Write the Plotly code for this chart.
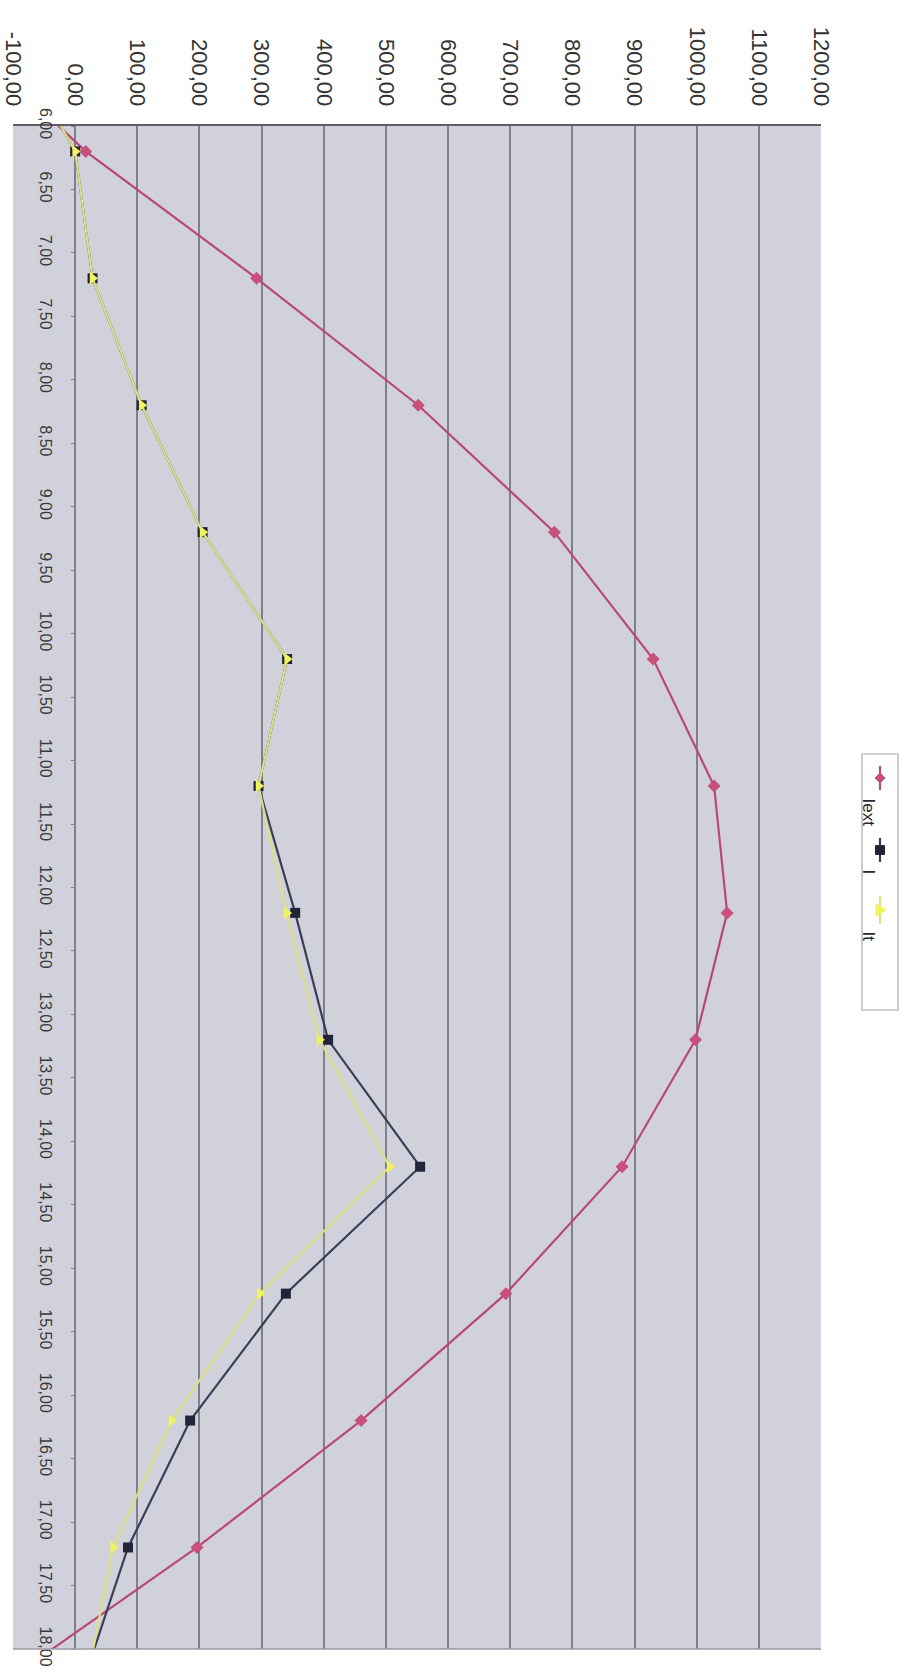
import plotly.graph_objects as go

# Hourly readings (decimal hours); the first and last rows lie just outside the 6–18 window
hours = [5.2, 6.2, 7.2, 8.2, 9.2, 10.2, 11.2, 12.2, 13.2, 14.2, 15.2, 16.2, 17.2, 18.2]
iext = [-200, 17, 292, 552, 771, 930, 1028, 1049, 998, 880, 693, 460, 196, -95]
i_vals = [-115, 0, 28, 107, 205, 341, 295, 354, 407, 555, 339, 185, 85, 17]
it_vals = [-115, 0, 28, 107, 205, 341, 295, 340, 393, 506, 297, 155, 61, 21]

value_ticks = [-100, 0, 100, 200, 300, 400, 500, 600, 700, 800, 900, 1000, 1100, 1200]
value_labels = ["-100,00", "0,00", "100,00", "200,00", "300,00", "400,00", "500,00",
                "600,00", "700,00", "800,00", "900,00", "1000,00", "1100,00", "1200,00"]
time_ticks = [6.0, 6.5, 7.0, 7.5, 8.0, 8.5, 9.0, 9.5, 10.0, 10.5, 11.0, 11.5, 12.0,
              12.5, 13.0, 13.5, 14.0, 14.5, 15.0, 15.5, 16.0, 16.5, 17.0, 17.5, 18.0]
time_labels = ["6,00", "6,50", "7,00", "7,50", "8,00", "8,50", "9,00", "9,50", "10,00",
               "10,50", "11,00", "11,50", "12,00", "12,50", "13,00", "13,50", "14,00",
               "14,50", "15,00", "15,50", "16,00", "16,50", "17,00", "17,50", "18,00"]
series_names = ["Iext", "I", "It"]

W, H = 913, 1677
ML, MR, MT, MB = 13, 92, 126, 28
PW, PH = W - ML - MR, H - MT - MB

PINK, PINK_LINE = "#c8507c", "#b9487a"
DARK, DARK_LINE = "#22243a", "#3b3e58"
YEL, YEL_LINE = "#f0f25e", "#dcdf86"
GRID = "#80808c"

fig = go.Figure()
fig.add_trace(go.Scatter(
    x=iext, y=hours, mode="lines+markers", name=series_names[0],
    line=dict(color=PINK_LINE, width=2.2),
    marker=dict(symbol="diamond", size=10, color=PINK),
))
fig.add_trace(go.Scatter(
    x=i_vals, y=hours, mode="lines+markers", name=series_names[1],
    line=dict(color=DARK_LINE, width=2.2),
    marker=dict(symbol="square", size=10, color=DARK),
))
fig.add_trace(go.Scatter(
    x=it_vals, y=hours, mode="lines+markers", name=series_names[2],
    line=dict(color=YEL_LINE, width=2.2),
    marker=dict(symbol="triangle-right", size=11, color=YEL),
))


def px_to_paper(px, py):
    return (px - ML) / PW, (H - MB - py) / PH


shapes = []
# lower border of the plotting area
shapes.append(dict(type="line", xref="paper", yref="paper", x0=0, x1=1, y0=0, y1=0,
                   line=dict(color="#9a9aa4", width=1.5)))

# legend box, drawn sideways like the rest of the chart
bx0, by0 = px_to_paper(862, 754)
bx1, by1 = px_to_paper(898, 1010)
shapes.append(dict(type="rect", xref="paper", yref="paper", x0=bx0, x1=bx1, y0=by0, y1=by1,
                   fillcolor="white", line=dict(color="#a8a8b0", width=1.2)))

cx = 880
legend_keys = [
    (766, 790, PINK_LINE, PINK, "diamond"),
    (838, 862, DARK_LINE, DARK, "square"),
    (896, 924, YEL_LINE, YEL, "triangle"),
]
for ya, yb, lc, mc, sym in legend_keys:
    xa, ya_p = px_to_paper(cx, ya)
    _, yb_p = px_to_paper(cx, yb)
    shapes.append(dict(type="line", xref="paper", yref="paper", x0=xa, x1=xa, y0=ya_p, y1=yb_p,
                       line=dict(color=lc, width=2.2)))
    mx, my = px_to_paper(cx, (ya + yb) / 2)
    if sym == "diamond":
        path = "M 0 5 L 5 0 L 0 -5 L -5 0 Z"
    elif sym == "square":
        path = "M -4.5 -4.5 L 4.5 -4.5 L 4.5 4.5 L -4.5 4.5 Z"
    else:
        path = "M 6 0 L -4 6 L -4 -6 Z"
    shapes.append(dict(type="path", xref="paper", yref="paper", xsizemode="pixel",
                       ysizemode="pixel", xanchor=mx, yanchor=my, path=path,
                       fillcolor=mc, line=dict(color=mc, width=1)))

annotations = []
for name, py in zip(series_names, [812, 872, 936]):
    ax, ay = px_to_paper(cx, py)
    annotations.append(dict(text=name, xref="paper", yref="paper", x=ax, y=ay,
                            showarrow=False, textangle=90,
                            font=dict(family="Liberation Sans, Arial, sans-serif",
                                      size=17, color="#2a2a2a")))

fig.update_layout(
    width=W, height=H,
    margin=dict(l=ML, r=MR, t=MT, b=MB, pad=0, autoexpand=False),
    paper_bgcolor="white",
    plot_bgcolor="#d1d1db",
    showlegend=False,
    font=dict(family="Liberation Sans, Arial, sans-serif", color="#333333"),
    shapes=shapes,
    annotations=annotations,
    xaxis=dict(
        range=[-100, 1200], side="top", automargin=False,
        tickmode="array", tickvals=value_ticks, ticktext=value_labels,
        tickangle=90, tickfont=dict(size=22, color="#333333"),
        showgrid=True, gridcolor=GRID, gridwidth=1.5,
        showline=True, linecolor="#5e5e68", linewidth=2,
        zeroline=False, ticks="", ticklabelstandoff=10,
        ticklabeloverflow="allow",
    ),
    yaxis=dict(
        range=[18, 6], anchor="free", position=100 / 1300, automargin=False,
        tickmode="array", tickvals=time_ticks, ticktext=time_labels,
        tickangle=90, tickfont=dict(size=16, color="#3a3a3a"),
        showgrid=False, zeroline=False, showline=False,
        ticks="outside", ticklen=4, tickcolor=GRID, ticklabelstandoff=12,
    ),
)

fig.write_html("out.html")
